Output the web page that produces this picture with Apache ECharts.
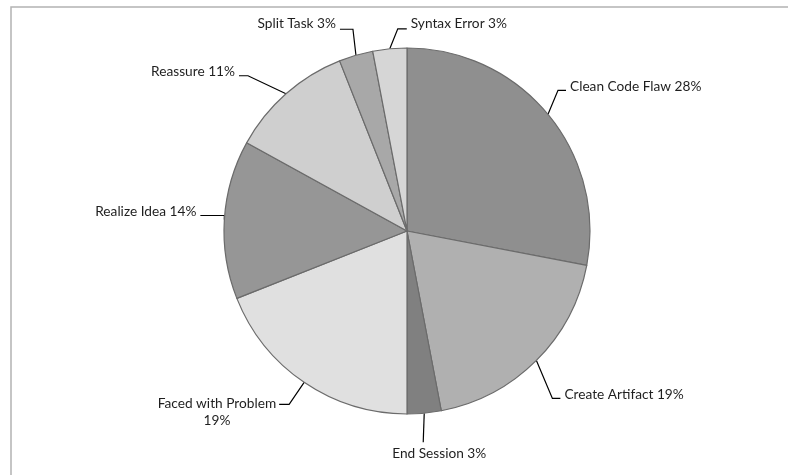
<!DOCTYPE html>
<html>
<head>
<meta charset="utf-8">
<script src="https://cdn.jsdelivr.net/npm/echarts@6/dist/echarts.min.js"></script>
<style>
  html, body { margin: 0; padding: 0; background: #fff; }
  #chart { width: 788px; height: 475px; }
</style>
</head>
<body>
<div id="chart"></div>
<script>
// Share of coded episodes per category (percent), clockwise from 12 o'clock
const categories = [
  'Clean Code Flaw', 'Create Artifact', 'End Session', 'Faced with Problem',
  'Realize Idea', 'Reassure', 'Split Task', 'Syntax Error'
];
const shares = [28, 19, 3, 19, 14, 11, 3, 3];

// Grey fill for each slice, same order as categories
const sliceColors = [
  '#8f8f8f', '#b0b0b0', '#808080', '#e0e0e0',
  '#969696', '#cfcfcf', '#a8a8a8', '#d6d6d6'
];

// Leader-line shape per label, relative to the slice's edge anchor:
// elbow = bend offset, tail = horizontal run after the bend,
// text = label offset from the line end, align = text alignment.
const leaderStyle = {
  'Clean Code Flaw':    { elbow: [10, -24], tail: 8,   text: [4, -4],   align: 'left' },
  'Create Artifact':    { elbow: [16, 38],  tail: 8,   text: [4, -4],   align: 'left' },
  'End Session':        { elbow: [-1, 29],  tail: 0,   text: [16, 11],  align: 'center' },
  'Faced with Problem': { elbow: [-15, 22], tail: -10, text: [-3, 7.5], align: 'block-right' },
  'Realize Idea':       { elbow: [0, -4],   tail: -24, text: [-4, -3.5], align: 'right' },
  'Reassure':           { elbow: [-38, -18], tail: -9, text: [-4, -4],  align: 'right' },
  'Split Task':         { elbow: [-3, -26], tail: -13, text: [-4, -5.5], align: 'right' },
  'Syntax Error':       { elbow: [8, -20],  tail: 9,   text: [4, -5.5], align: 'left' }
};

const chart = echarts.init(document.getElementById('chart'), null, { renderer: 'canvas' });

const pieData = categories.map((name, i) => ({
  name: name,
  value: shares[i],
  itemStyle: { color: sliceColors[i] }
}));

chart.setOption({
  animation: false,
  backgroundColor: '#ffffff',
  graphic: [{
    type: 'rect',
    shape: { x: 11, y: 7, width: 1000, height: 1000 },
    style: { fill: 'none', stroke: '#b3b3b3', lineWidth: 1.5 },
    silent: true
  }],
  series: [{
    type: 'pie',
    center: [407, 231],
    radius: 183,
    startAngle: 90,
    clockwise: true,
    avoidLabelOverlap: false,
    data: pieData,
    itemStyle: { borderColor: '#6b6b6b', borderWidth: 1.2 },
    label: {
      show: true,
      formatter: (p) => p.name === 'Faced with Problem'
        ? p.name + '\n' + p.value + '%'
        : p.name + ' ' + p.value + '%',
      fontFamily: 'Lato',
      fontSize: 13.7,
      color: '#1f1f1f',
      lineHeight: 17
    },
    labelLine: {
      show: true,
      length: 20,
      length2: 8,
      lineStyle: { color: '#000000', width: 1.2 }
    },
    labelLayout: function (params) {
      const name = categories[params.dataIndex];
      const s = leaderStyle[name];
      const pts = params.labelLinePoints;
      if (!s || !pts) return {};
      const a = pts[0];
      const bend = [a[0] + s.elbow[0], a[1] + s.elbow[1]];
      const end = [bend[0] + s.tail, bend[1]];
      const linePts = s.tail === 0 ? [a, bend] : [a, bend, end];
      let x = end[0] + s.text[0];
      const y = end[1] + s.text[1];
      let align = s.align;
      if (align === 'block-right') {
        x = x - params.labelRect.width / 2;
        align = 'center';
      }
      return {
        x: x,
        y: y,
        align: align,
        verticalAlign: 'middle',
        labelLinePoints: linePts
      };
    },
    emphasis: { disabled: true }
  }]
});
</script>
</body>
</html>
